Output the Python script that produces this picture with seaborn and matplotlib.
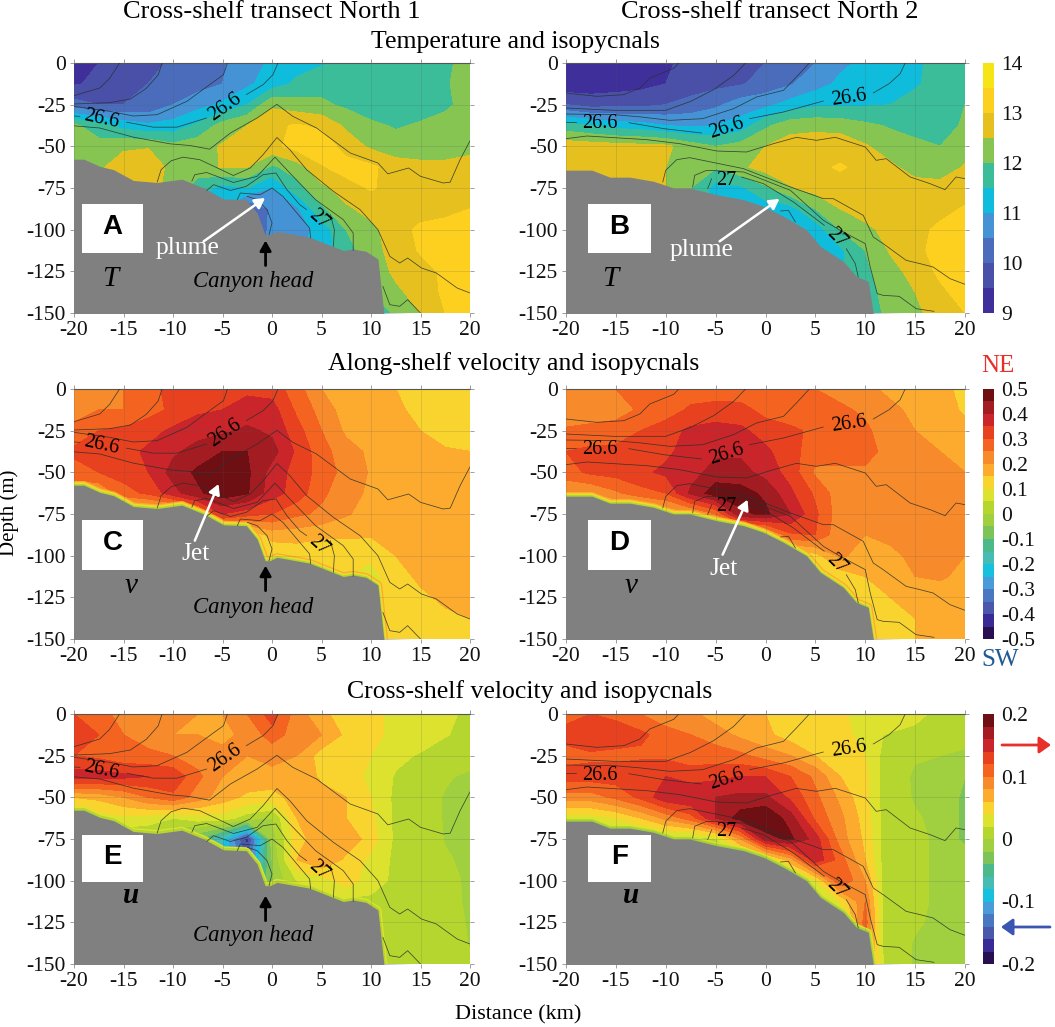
import numpy as np
import seaborn as sns
import matplotlib.pyplot as plt
from matplotlib.colors import ListedColormap, BoundaryNorm
from matplotlib.patches import FancyArrowPatch, Rectangle

# Grid the sections are read on
distance = [-20, -17.5, -15, -12.5, -10, -7.5, -5, -2.5, 0, 2.5, 5, 7.5, 10, 12.5, 15, 17.5, 20]
# panel F has its sharp front just past 10 km, so that column is read closer in
cross_n2_distance = [-20, -17.5, -15, -12.5, -10, -7.5, -5, -2.5, 0, 2.5, 5, 7.5, 10, 11.8, 15, 17.5, 20]
depth = [0, -12.5, -25, -37.5, -50, -62.5, -75, -87.5, -100, -112.5, -125, -137.5, -150]

# Temperature, transect North 1
temp_n1 = [
    [9.2, 9.5, 9.7, 9.9, 10.05, 10.2, 10.45, 10.75, 11.1, 11.3, 11.45, 11.6, 11.7, 11.8, 11.85, 11.95, 12.1],
    [9.45, 9.6, 9.8, 10.0, 10.15, 10.3, 10.5, 10.9, 11.25, 11.6, 11.8, 11.7, 11.75, 11.8, 11.85, 11.95, 12.2],
    [10.2, 10.0, 10.0, 10.1, 10.5, 10.8, 11.1, 11.5, 12.4, 12.2, 12.1, 11.9, 11.7, 11.65, 11.8, 11.9, 12.2],
    [12.1, 11.7, 11.3, 11.1, 11.2, 11.6, 12.2, 12.5, 12.9, 13.05, 12.9, 12.4, 12.1, 11.95, 12.05, 12.2, 12.3],
    [12.2, 12.2, 12.4, 12.45, 12.15, 12.3, 12.55, 12.8, 12.85, 13.2, 13.3, 12.8, 12.4, 12.2, 12.2, 12.3, 12.35],
    [12.5, 12.4, 12.8, 12.9, 12.3, 12.2, 12.55, 12.5, 11.9, 12.25, 12.95, 13.2, 13.1, 12.75, 12.65, 12.6, 12.7],
    [12.5, 12.5, 12.6, 12.7, 12.3, 11.8, 11.3, 11.5, 11.0, 11.8, 12.35, 12.8, 13.05, 12.8, 12.65, 12.6, 12.7],
    [12.5, 12.5, 12.5, 12.5, 12.0, 11.2, 11.0, 9.9, 10.6, 10.9, 11.9, 12.4, 12.7, 12.75, 12.8, 12.85, 13.0],
    [12.5, 12.5, 12.5, 12.5, 12.0, 11.0, 10.5, 9.9, 10.65, 10.75, 11.2, 12.0, 12.35, 12.8, 13.1, 13.2, 13.2],
    [12.5, 12.5, 12.5, 12.5, 12.0, 11.0, 10.5, 10.0, 10.7, 10.9, 11.2, 11.8, 12.3, 12.7, 13.05, 13.2, 13.2],
    [12.5, 12.5, 12.5, 12.5, 12.0, 11.0, 10.5, 10.0, 10.7, 10.9, 11.2, 11.8, 12.2, 12.6, 12.8, 13.1, 13.2],
    [12.5, 12.5, 12.5, 12.5, 12.0, 11.0, 10.5, 10.0, 11.0, 11.2, 11.5, 11.8, 12.0, 12.4, 12.7, 13.1, 13.2],
    [12.5, 12.5, 12.5, 12.5, 12.0, 11.0, 10.5, 10.0, 11.0, 11.2, 11.5, 11.8, 11.5, 12.1, 12.5, 13.0, 13.2],
]

# Temperature, transect North 2
temp_n2 = [
    [9.1, 9.15, 9.2, 9.3, 9.45, 9.6, 9.75, 9.9, 10.0, 10.25, 10.5, 10.9, 11.1, 11.3, 11.45, 11.6, 11.8],
    [9.15, 9.2, 9.25, 9.35, 9.5, 9.7, 9.85, 9.95, 10.2, 10.45, 10.8, 11.1, 11.3, 11.4, 11.45, 11.65, 11.85],
    [10.0, 9.8, 9.85, 9.85, 10.0, 10.2, 10.4, 10.75, 10.85, 11.2, 11.4, 11.4, 11.45, 11.5, 11.65, 11.85, 12.0],
    [11.7, 11.5, 11.3, 11.2, 11.0, 10.9, 11.0, 11.2, 11.9, 12.3, 12.35, 12.3, 12.1, 11.95, 11.85, 11.85, 12.05],
    [12.8, 12.75, 12.7, 12.65, 12.6, 12.25, 12.0, 12.2, 12.5, 12.75, 12.8, 12.8, 12.55, 12.25, 12.1, 12.0, 12.3],
    [12.85, 12.8, 12.8, 12.7, 12.5, 12.2, 12.05, 12.4, 12.7, 12.85, 12.9, 13.05, 12.85, 12.6, 12.3, 12.2, 12.55],
    [12.8, 12.8, 12.8, 12.8, 12.5, 12.0, 11.3, 11.4, 11.9, 12.45, 12.7, 12.8, 12.8, 12.75, 12.7, 12.7, 12.75],
    [12.8, 12.8, 12.8, 12.8, 12.5, 12.0, 11.3, 11.2, 11.2, 11.3, 12.0, 12.5, 12.75, 12.8, 12.8, 12.85, 13.05],
    [12.8, 12.8, 12.8, 12.8, 12.5, 12.0, 11.3, 11.2, 11.2, 11.3, 11.2, 12.0, 12.35, 12.7, 12.85, 13.1, 13.2],
    [12.8, 12.8, 12.8, 12.8, 12.5, 12.0, 11.3, 11.2, 11.2, 11.3, 11.2, 11.4, 12.0, 12.55, 12.85, 13.2, 13.3],
    [12.8, 12.8, 12.8, 12.8, 12.5, 12.0, 11.3, 11.2, 11.2, 11.3, 11.2, 11.4, 11.9, 12.3, 12.7, 13.1, 13.3],
    [12.8, 12.8, 12.8, 12.8, 12.5, 12.0, 11.3, 11.2, 11.2, 11.3, 11.2, 11.4, 11.8, 12.2, 12.5, 12.9, 13.2],
    [12.8, 12.8, 12.8, 12.8, 12.5, 12.0, 11.3, 11.2, 11.2, 11.3, 11.2, 11.4, 11.8, 12.1, 12.4, 12.7, 13.0],
]

# Along-shelf velocity
along_n1 = [
    [.2, .23, .25, .28, .32, .34, .34, .34, .33, .27, .2, .18, .17, .15, .13, .12, .11],
    [.22, .25, .25, .28, .31, .34, .35, .37, .37, .29, .23, .175, .17, .16, .135, .12, .11],
    [.27, .3, .31, .33, .36, .38, .39, .41, .39, .32, .25, .19, .18, .165, .15, .13, .12],
    [.31, .33, .33, .36, .39, .42, .45, .45, .42, .34, .27, .22, .19, .17, .16, .155, .15],
    [.28, .3, .32, .35, .42, .46, .49, .46, .38, .33, .28, .23, .195, .18, .17, .17, .16],
    [.2, .2, .28, .31, .38, .44, .48, .455, .37, .33, .26, .22, .19, .18, .18, .18, .17],
    [.1, .1, .1, .1, .1, .2, .35, .32, .3, .26, .24, .205, .18, .17, .18, .18, .18],
    [.1, .1, .1, .1, .1, .1, .1, .1, .17, .17, .16, .16, .155, .17, .18, .18, .18],
    [.1, .1, .1, .1, .1, .1, .1, .1, .11, .12, .11, .11, .11, .15, .17, .18, .18],
    [.1, .1, .1, .1, .1, .1, .1, .1, .1, .1, .1, .1, .08, .13, .16, .18, .175],
    [.1, .1, .1, .1, .1, .1, .1, .1, .1, .1, .1, .1, .08, .12, .14, .16, .17],
    [.1, .1, .1, .1, .1, .1, .1, .1, .1, .1, .1, .1, .08, .12, .13, .14, .15],
    [.1, .1, .1, .1, .1, .1, .1, .1, .1, .1, .1, .1, .08, .12, .12, .12, .12],
]
along_n2 = [
    [.2, .21, .25, .26, .27, .27, .27, .265, .26, .26, .25, .23, .21, .19, .18, .17, .13],
    [.2, .21, .22, .26, .27, .31, .32, .32, .28, .27, .27, .26, .24, .21, .19, .18, .14],
    [.26, .27, .28, .3, .33, .36, .37, .36, .33, .31, .29, .28, .26, .22, .2, .19, .17],
    [.3, .31, .31, .32, .34, .37, .39, .39, .36, .32, .27, .27, .26, .24, .21, .2, .18],
    [.28, .31, .32, .34, .36, .38, .42, .42, .38, .33, .24, .24, .245, .23, .22, .21, .2],
    [.2, .2, .24, .28, .3, .41, .48, .47, .44, .36, .29, .22, .21, .21, .21, .21, .2],
    [.1, .1, .1, .1, .15, .18, .25, .44, .46, .4, .31, .22, .21, .21, .21, .21, .2],
    [.1, .1, .1, .1, .1, .1, .1, .1, .15, .29, .3, .21, .2, .21, .21, .21, .21],
    [.1, .1, .1, .1, .1, .1, .1, .1, .1, .1, .13, .21, .175, .19, .21, .21, .2],
    [.1, .1, .1, .1, .1, .1, .1, .1, .1, .1, .1, .12, .15, .18, .2, .205, .19],
    [.1, .1, .1, .1, .1, .1, .1, .1, .1, .1, .1, .1, .11, .15, .17, .18, .18],
    [.1, .1, .1, .1, .1, .1, .1, .1, .1, .1, .1, .1, .1, .13, .15, .17, .17],
    [.1, .1, .1, .1, .1, .1, .1, .1, .1, .1, .1, .1, .1, .12, .15, .16, .16],
]

# Cross-shelf velocity
cross_n1 = [
    [.12, .11, .09, .085, .085, .08, .08, .1, .13, .09, .065, .05, .045, .035, .03, .025, .015],
    [.125, .12, .1, .09, .08, .08, .075, .085, .11, .09, .08, .055, .045, .035, .03, .021, .015],
    [.12, .115, .105, .105, .1, .09, .085, .08, .085, .08, .05, .045, .04, .025, .018, .012, .012],
    [.15, .15, .145, .14, .135, .105, .08, .075, .075, .08, .055, .05, .035, .018, .015, .003, -.005],
    [.06, .065, .08, .1, .115, .09, .07, .055, .05, .07, .07, .06, .04, .015, .012, -.002, -.006],
    [.04, .03, .035, .03, .02, .03, .03, .01, .0, .06, .075, .06, .045, .015, .012, -.002, -.005],
    [.0, .0, .0, .0, -.03, -.04, -.08, -.17, -.01, .05, .075, .075, .05, .015, .012, -.001, -.004],
    [.0, .0, .0, .0, -.03, -.04, -.08, -.14, -.02, .06, .08, .055, .035, .015, .012, .002, -.004],
    [.0, .0, .0, .0, -.03, -.04, -.08, -.1, -.02, .02, .03, .05, .03, .015, .012, .005, -.003],
    [.0, .0, .0, .0, -.03, -.04, -.08, -.1, -.02, .0, .01, .015, .015, .015, .012, .006, -.003],
    [.0, .0, .0, .0, -.03, -.04, -.08, -.1, -.02, .0, .01, .015, .015, .015, .012, .008, -.002],
    [.0, .0, .0, .0, -.03, -.04, -.08, -.1, -.02, .0, .01, .015, .015, .015, .012, .01, -.001],
    [.0, .0, .0, .0, -.03, -.04, -.08, -.1, -.02, .0, .01, .015, .015, .015, .012, .01, .002],
]
cross_n2 = [
    [.11, .12, .115, .1, .085, .085, .07, .065, .06, .05, .045, .042, .035, .03, .025, .015, .01],
    [.13, .14, .13, .125, .11, .1, .09, .075, .065, .05, .055, .045, .035, .02, .015, .012, .01],
    [.11, .115, .115, .115, .115, .11, .11, .105, .09, .08, .06, .05, .04, .015, .002, .0, -.005],
    [.13, .13, .13, .14, .14, .13, .135, .14, .14, .12, .095, .06, .045, .014, -.003, -.005, -.02],
    [.09, .09, .105, .125, .155, .16, .16, .165, .165, .135, .105, .075, .045, .014, -.002, -.005, -.025],
    [.03, .03, .04, .06, .085, .11, .16, .19, .2, .17, .115, .085, .05, .014, .002, -.005, -.025],
    [.0, .0, .0, .0, .01, .005, .02, .08, .17, .185, .15, .09, .055, .014, .006, -.005, -.025],
    [.0, .0, .0, .0, .0, .0, .0, .01, .02, .07, .155, .11, .06, .014, .006, -.005, -.01],
    [.0, .0, .0, .0, .0, .0, .0, .0, .0, .01, .035, .12, .08, .015, .006, -.005, -.006],
    [.0, .0, .0, .0, .0, .0, .0, .0, .0, .0, .01, .04, .1, .015, .006, -.005, -.006],
    [.0, .0, .0, .0, .0, .0, .0, .0, .0, .0, .0, .01, .11, .015, .003, -.005, -.006],
    [.0, .0, .0, .0, .0, .0, .0, .0, .0, .0, .0, .0, .1, .018, -.002, -.005, -.006],
    [.0, .0, .0, .0, .0, .0, .0, .0, .0, .0, .0, .0, .1, .02, -.003, -.005, -.006],
]

# Sea floor
bottom_n1_x = [-20, -19, -17.4, -16, -14, -11.6, -9.1, -6.9, -4.9, -2.6, -1.5, -0.7, -0.2, 0.5, 3.8, 7.2, 8.2, 9.5, 10.7, 11.3]
bottom_n1_z = [-57.7, -57.7, -62, -64, -70.5, -71.7, -69.7, -75, -81.5, -82, -90, -103, -103, -101, -104.5, -112.5, -111.6, -113, -117.6, -150]
bottom_n2_x = [-20, -17.4, -15.6, -13.6, -11.2, -9.2, -7.6, -4.9, -2.2, -0.2, 1.8, 4.1, 5.5, 7.8, 9.1, 10.3, 10.8]
bottom_n2_z = [-64.3, -64.3, -68.5, -68.5, -71, -75, -75, -79, -82, -86, -92, -100, -110, -119, -128, -131, -150]

# Isopycnal lines, split where a label sits
iso_n1 = [
    [(-20, -19.6), (-17.4, -15), (-16.4, -9.2), (-15.4, 0)],
    [(-20, -24.6), (-16.4, -23.8), (-14.3, -21.6), (-12.7, -15.2), (-11.5, -7.2), (-11.1, 0)],
    [(-20, -26), (-16.4, -29), (-14, -31.8), (-11.6, -31), (-8.6, -23), (-6.3, -13), (-4.9, -7), (-4.5, 0)],
    [(-20, -31.8), (-19.4, -32)],
    [(-14.7, -35.5), (-12, -38.5), (-9.6, -38.5), (-6.6, -33)],
    [(-2.6, -19), (-0.9, -13), (0.1, -7), (0.6, 0)],
    [(-20, -37.7), (-17.4, -39), (-14, -44.5), (-10.3, -48.5), (-8.3, -49.5), (-6.3, -51.7), (-4.2, -42), (-1.5, -33),
     (0.5, -24.8), (2.1, -32), (4.5, -39), (7.9, -54), (10.7, -60), (11.7, -66.5), (13.8, -63), (15, -68), (17.3, -72),
     (18, -71.5), (19, -58), (20, -46.7)],
    [(-11.6, -71.5), (-11.2, -64), (-10.2, -58.7), (-9, -56.5), (-7.3, -58), (-3.9, -67.5), (-2.2, -63), (-0.9, -55),
     (0.5, -44.7), (1.8, -52), (3.5, -64), (6.2, -77), (8.9, -88), (10.7, -100), (11.9, -116), (12.9, -120), (13.7, -117),
     (15.1, -123), (16.6, -126), (18.7, -135), (20, -138)],
    [(-8.1, -71), (-7.8, -67), (-6.6, -65.7), (-3.9, -71.7), (-1.5, -68), (0.3, -56.5), (1.8, -66), (4.4, -82), (7.2, -94),
     (8.2, -102), (8.2, -112.5)],
    [(-6.6, -76.5), (-5.9, -73), (-4.2, -76.5), (-2.6, -74), (-0.9, -67), (0.4, -66), (1.5, -76), (2.8, -85), (3.5, -88)],
    [(5.9, -91), (6.3, -100), (6.2, -110)],
    [(-3.5, -82), (-3.2, -78), (-1.2, -79), (0, -75), (1.1, -80), (2.8, -92), (3.8, -99), (3.9, -105)],
    [(-2.5, -80), (-1.5, -82), (-0.5, -88), (0, -96), (-0.3, -103)],
    [(11.2, -134), (11.9, -145), (12.9, -146), (13.7, -142), (15, -150)],
]
iso_n2 = [
    [(-20, -18), (-16.9, -20), (-14.2, -19), (-12.6, -15), (-11.6, -9), (-9.2, -3.2), (-8.7, 0)],
    [(-20, -27), (-15.2, -28.4), (-10, -28.4), (-7.5, -23), (-5.2, -16), (-3.2, -7.5), (-2, 0)],
    [(-20, -30.6), (-15.2, -31), (-12.6, -32.3), (-9.6, -34.4), (-6.3, -33.4), (-3.2, -27.4), (-0.9, -20.4), (1.8, -16.4),
     (3.1, -8.4), (4.4, 0)],
    [(-20, -35.4), (-19, -35.4)],
    [(-13.7, -35.8), (-10.2, -39.4), (-6.4, -42)],
    [(-1.6, -33.4), (1.8, -29.4), (5.8, -22.8)],
    [(10.8, -18), (12.4, -12.4), (13.5, -6.4), (14, 0)],
    [(-20, -45.4), (-17.9, -43.8), (-11.9, -46), (-8.6, -48.4), (-4.9, -52.8), (-1.9, -53.4), (0.8, -48.4), (3.1, -44.6),
     (5.1, -46.4), (7, -44.6), (10, -50.4), (11.1, -58.4), (12.1, -57.4), (14.5, -68.4), (16.5, -72.4), (18, -76),
     (19.1, -68.4), (20, -69.4)],
    [(-10.3, -71.4), (-10, -64.4), (-8.9, -58), (-7.6, -56.8), (-2.2, -63.4), (2.5, -74.4), (5.8, -81.4), (6.8, -81.4),
     (9.8, -91.4), (10.8, -104.4), (11.8, -108.4), (14.1, -118.4), (15.5, -120.4), (16.8, -122.4), (18.5, -129.4), (20, -132.8)],
    [(-7.3, -74.4), (-7.1, -67.4), (-5.9, -64.4), (-2.2, -65.4), (2.5, -76.4), (5.8, -94.4), (7.5, -100.4), (10, -108.4),
     (10.5, -122.4), (11.2, -138.4), (11.8, -139.4), (13.4, -140), (15.1, -147.4), (16.9, -149)],
    [(-5.8, -75.4), (-5.4, -69.4)],
    [(-2.4, -68.4), (-0.2, -72.4), (2.8, -83.4), (5.9, -97.4)],
    [(8.1, -111.4), (9, -120.4), (9.3, -128.4)],
    [(1.5, -88.8), (2.3, -88.4), (3, -95.4)],
]

# Contour labels: distance, depth, text, angle
labels_n1 = [(-17.2, -34, "26.6", -12), (-4.7, -26.5, "26.6", 35), (4.7, -93.7, "27", -42)]
labels_n2 = [(-16.6, -36.6, "26.6", 0), (-3.9, -39, "26.6", 18), (8.4, -21, "26.6", 8), (-3.9, -70.7, "27", 0), (7.1, -105, "27", -45)]

# Colour bands
temp_levels = [9, 9.5, 10, 10.5, 11, 11.5, 12, 12.5, 13, 13.5, 14]
temp_colors = ["#3f2f9b", "#4a4fa8", "#4a6cba", "#4592d4", "#10bcdc", "#3bbd9a", "#86c552", "#e6c01e", "#fdd020", "#f5e416"]
vel_colors = ["#2a0f50", "#3a2a95", "#4a58ac", "#4a78c0", "#4a9cd8", "#18c0e0", "#45bdb5", "#4cb98a", "#7cc45a", "#a0d040",
              "#b5d62e", "#dde22e", "#fad42e", "#fcab2e", "#f78a2a", "#f46420", "#e8411f", "#c9252a", "#a31c22", "#6e0f14"]
along_levels = [round(-0.5 + 0.05 * i, 2) for i in range(21)]
cross_levels = [round(-0.2 + 0.02 * i, 2) for i in range(21)]

xticks = [-20, -15, -10, -5, 0, 5, 10, 15, 20]
yticks = [0, -25, -50, -75, -100, -125, -150]

W, H = 1055, 1027
SERIF = "Liberation Serif"

sns.set_theme(style="ticks")
plt.rcParams["font.family"] = SERIF
plt.rcParams["axes.unicode_minus"] = False
plt.rcParams["text.color"] = "black"

fig = plt.figure(figsize=(W / 100, H / 100), dpi=100)


def px_axes(left, top, right, bottom):
    return fig.add_axes([left / W, 1 - bottom / H, (right - left) / W, (bottom - top) / H])


def fig_text(x, y, s, size=18.5, **kw):
    fig.text(x / W, 1 - y / H, s, size=size, ha="center", va="center", **kw)


def section(ax, field, levels, colors, bx, bz, iso, labels, edge_layers, xs=distance):
    cmap = ListedColormap(sns.color_palette(colors))
    norm = BoundaryNorm(levels, cmap.N)
    ax.contourf(xs, depth, np.array(field), levels=levels, cmap=cmap, norm=norm, extend="both", zorder=1)
    # thin layer hugging the sea floor
    for color, width in edge_layers:
        ax.plot(bx, bz, color=color, lw=width, solid_joinstyle="round", zorder=2)
    ax.fill_between([-21] + bx + [21], [bz[0]] + bz + [-151], -151, color="#808080", lw=0, zorder=3)
    for seg in iso:
        sx, sz = zip(*seg)
        ax.plot(sx, sz, color="#26302e", lw=0.55, alpha=0.85, zorder=4)
    for x, z, s, angle in labels:
        ax.text(x, z, s, size=14.5, rotation=angle, ha="center", va="center", color="black", zorder=6)
    ax.set_xlim(-20, 20)
    ax.set_ylim(-150, 0)
    ax.set_xticks(xticks, [str(t) for t in xticks])
    ax.set_yticks(yticks, [str(t) for t in yticks])
    ax.grid(True, color="#555555", lw=0.4, alpha=0.3, zorder=5)
    ax.set_axisbelow(False)
    sns.despine(ax=ax, left=True, right=True, bottom=True, top=False)
    ax.xaxis.set_ticks_position("both")
    ax.yaxis.set_ticks_position("both")
    ax.tick_params(labelsize=15.5, length=3, width=0.5, color="#777777", pad=3, labelcolor="#111111",
                   labelbottom=True, labeltop=False, labelleft=True, labelright=False)
    ax.spines["top"].set_color("#555555")
    ax.spines["top"].set_linewidth(0.8)


def tag(ax, x0, x1, z0, z1, letter):
    ax.add_patch(Rectangle((x0, z1), x1 - x0, z0 - z1, color="white", lw=0, zorder=7))
    ax.text((x0 + x1) / 2, (z0 + z1) / 2 + 1, letter, size=20, family="Liberation Sans", weight="bold",
            ha="center", va="center", zorder=8)


def pointer(ax, tail, tip, color, width=1.8):
    ax.annotate("", xy=tip, xytext=tail, zorder=8,
                arrowprops=dict(arrowstyle="-|>,head_length=0.5,head_width=0.28", color=color, lw=width, shrinkA=0, shrinkB=0))


def color_bar(top, bottom, levels, colors, ticks):
    cax = px_axes(983, top, 994, bottom)
    mids = [(a + b) / 2 for a, b in zip(levels[:-1], levels[1:])]
    sns.heatmap(np.array(mids)[::-1].reshape(-1, 1), ax=cax, cmap=ListedColormap(colors), cbar=False,
                xticklabels=False, yticklabels=False, vmin=levels[0], vmax=levels[-1])
    n = len(mids)
    span = levels[-1] - levels[0]
    cax.yaxis.tick_right()
    cax.set_yticks([n * (levels[-1] - t) / span for t in ticks], [f"{t:g}" for t in ticks], rotation=0)
    cax.tick_params(axis="y", length=0, labelsize=15.5, pad=5, labelcolor="#111111")
    cax.set_xticks([])


ROWS = [(63, 313), (389, 639), (714, 964)]
LEFT = (74, 470)
RIGHT = (566, 965)

ax_a = px_axes(LEFT[0], ROWS[0][0], LEFT[1], ROWS[0][1])
ax_b = px_axes(RIGHT[0], ROWS[0][0], RIGHT[1], ROWS[0][1])
ax_c = px_axes(LEFT[0], ROWS[1][0], LEFT[1], ROWS[1][1])
ax_d = px_axes(RIGHT[0], ROWS[1][0], RIGHT[1], ROWS[1][1])
ax_e = px_axes(LEFT[0], ROWS[2][0], LEFT[1], ROWS[2][1])
ax_f = px_axes(RIGHT[0], ROWS[2][0], RIGHT[1], ROWS[2][1])

section(ax_a, temp_n1, temp_levels, temp_colors, bottom_n1_x, bottom_n1_z, iso_n1, labels_n1, [])
section(ax_b, temp_n2, temp_levels, temp_colors, bottom_n2_x, bottom_n2_z, iso_n2, labels_n2, [])
v_edge = [("#fcab2e", 6), ("#fad42e", 4.2), ("#dde22e", 2.8), ("#b5d62e", 1.6)]
section(ax_c, along_n1, along_levels, vel_colors, bottom_n1_x, bottom_n1_z, iso_n1, labels_n1, v_edge)
section(ax_d, along_n2, along_levels, vel_colors, bottom_n2_x, bottom_n2_z, iso_n2, labels_n2, v_edge)
u_edge = [("#dde22e", 5), ("#b5d62e", 3)]
section(ax_e, cross_n1, cross_levels, vel_colors, bottom_n1_x, bottom_n1_z, iso_n1, labels_n1, u_edge)
section(ax_f, cross_n2, cross_levels, vel_colors, bottom_n2_x, bottom_n2_z, iso_n2, labels_n2,
        u_edge + [("#a0d040", 1.5)], xs=cross_n2_distance)

tag(ax_a, -19.2, -13, -84.8, -114, "A")
tag(ax_b, -17.8, -11.5, -84.8, -114, "B")
tag(ax_c, -19.2, -13, -78.6, -108.4, "C")
tag(ax_d, -17.8, -11.5, -78.6, -108.4, "D")
tag(ax_e, -19.2, -13, -72.4, -101, "E")
tag(ax_f, -17.8, -11.5, -72.4, -101, "F")

for ax, x, z, s, w in [(ax_a, -16.3, -129.6, "T", "normal"), (ax_b, -15.6, -129.6, "T", "normal"),
                       (ax_c, -14.2, -118, "v", "normal"), (ax_d, -13.5, -118, "v", "normal"),
                       (ax_e, -14.2, -109, "u", "bold"), (ax_f, -13.5, -109, "u", "bold")]:
    ax.text(x, z, s, size=21, style="italic", weight=w, ha="center", va="center", zorder=8)

for ax, tail, tip, z in [(ax_a, -121.5, -106.5, -131), (ax_c, -121, -106, -131.4), (ax_e, -124, -109, -133)]:
    pointer(ax, (-0.65, tail), (-0.65, tip), "black", 2.0)
    ax.text(-1.9, z, "Canyon head", size=16.3, style="italic", ha="center", va="center", zorder=8)

pointer(ax_a, (-6.9, -107), (-0.7, -81), "white")
ax_a.text(-8.5, -111, "plume", size=18.4, color="white", ha="center", va="center", zorder=8)
pointer(ax_b, (-4.6, -107), (1.4, -81.5), "white")
ax_b.text(-6.4, -112, "plume", size=18.4, color="white", ha="center", va="center", zorder=8)
pointer(ax_c, (-7.8, -91), (-5.4, -57), "white")
ax_c.text(-7.7, -98.7, "Jet", size=18.4, color="white", ha="center", va="center", zorder=8)
pointer(ax_d, (-4.3, -99.4), (-1.8, -66.4), "white")
ax_d.text(-4.2, -108, "Jet", size=18.4, color="white", ha="center", va="center", zorder=8)

color_bar(63, 313, temp_levels, temp_colors, [9, 10, 11, 12, 13, 14])
color_bar(389, 639, along_levels, vel_colors, [-.5, -.4, -.3, -.2, -.1, 0, .1, .2, .3, .4, .5])
color_bar(714, 964, cross_levels, vel_colors, [-.2, -.1, 0, .1, .2])

fig_text(272, 12, "Cross-shelf transect North 1", size=19)
fig_text(770, 12, "Cross-shelf transect North 2", size=19)
fig_text(515, 42, "Temperature and isopycnals")
fig_text(514, 364, "Along-shelf velocity and isopycnals")
fig_text(530, 692, "Cross-shelf velocity and isopycnals")
fig_text(518, 1015, "Distance (km)", size=16)
fig_text(9, 513, "Depth (m)", size=15, rotation=90)
fig_text(998, 366, "NE", size=18, color="#e8302a")
fig_text(1000, 660, "SW", size=18, color="#1f5a96")

fig.add_artist(FancyArrowPatch((1002 / W, 1 - 745 / H), (1051 / W, 1 - 745 / H), transform=fig.transFigure,
                               arrowstyle="-|>,head_length=7,head_width=5", color="#e8302a", lw=2, shrinkA=0, shrinkB=0))
fig.add_artist(FancyArrowPatch((1050 / W, 1 - 927 / H), (1001 / W, 1 - 927 / H), transform=fig.transFigure,
                               arrowstyle="-|>,head_length=7,head_width=5", color="#3b55b0", lw=2, shrinkA=0, shrinkB=0))

fig.savefig("out.png", dpi=100)
